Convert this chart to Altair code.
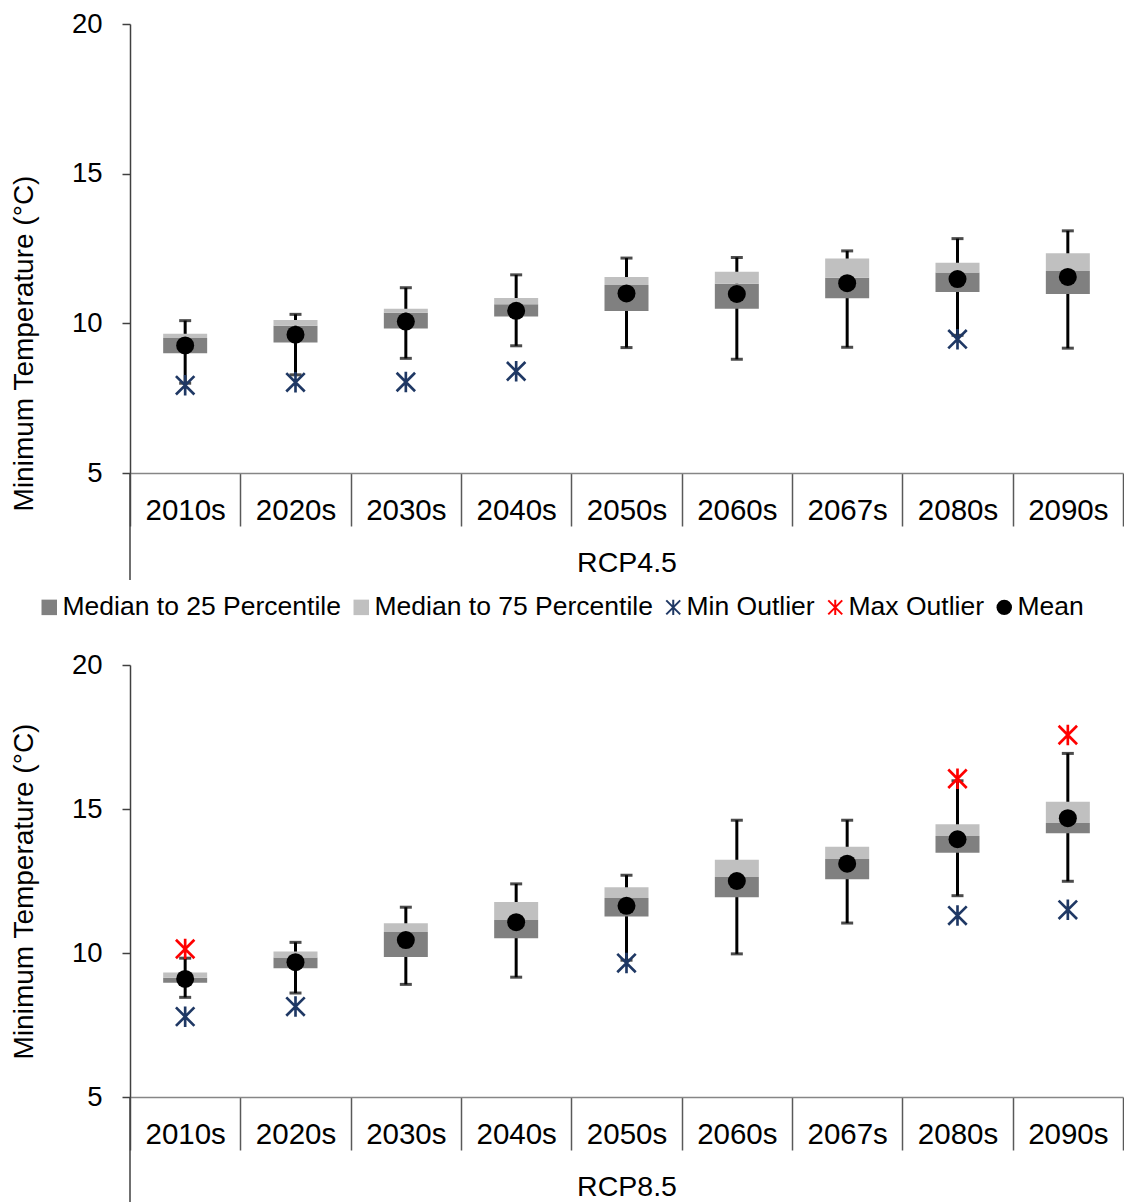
import altair as alt
import pandas as pd

periods = ["2010s", "2020s", "2030s", "2040s", "2050s", "2060s", "2067s", "2080s", "2090s"]

# RCP4.5
r45_q1 = [9.00, 9.36, 9.83, 10.23, 10.41, 10.49, 10.84, 11.05, 10.98]
r45_med = [9.51, 9.92, 10.35, 10.64, 11.28, 11.32, 11.52, 11.70, 11.75]
r45_q3 = [9.65, 10.11, 10.49, 10.85, 11.55, 11.72, 12.17, 12.02, 12.34]
r45_lo = [8.00, 8.28, 8.83, 9.25, 9.19, 8.80, 9.20, 9.60, 9.17]
r45_hi = [10.09, 10.30, 11.19, 11.62, 12.18, 12.20, 12.42, 12.83, 13.09]
r45_mean = [9.26, 9.62, 10.06, 10.42, 11.00, 10.98, 11.34, 11.48, 11.55]
r45_minout = [7.93, 8.03, 8.04, 8.40, None, None, None, 9.47, None]
r45_maxout = [None, None, None, None, None, None, None, None, None]

# RCP8.5
r85_q1 = [8.97, 9.47, 9.86, 10.51, 11.27, 11.94, 12.56, 13.48, 14.16]
r85_med = [9.14, 9.84, 10.73, 11.15, 11.91, 12.64, 13.26, 14.06, 14.51]
r85_q3 = [9.32, 10.05, 11.03, 11.77, 12.28, 13.24, 13.69, 14.47, 15.25]
r85_lo = [8.46, 8.61, 8.91, 9.16, 9.75, 9.97, 11.04, 11.99, 12.49]
r85_hi = [9.82, 10.37, 11.59, 12.40, 12.70, 14.61, 14.61, 15.98, 16.93]
r85_mean = [9.10, 9.68, 10.45, 11.07, 11.64, 12.50, 13.10, 13.95, 14.68]
r85_minout = [7.79, 8.14, None, None, 9.65, None, None, 11.30, 11.50]
r85_maxout = [10.14, None, None, None, None, None, None, 16.05, 17.57]

SERIES = ["Median to 25 Percentile", "Median to 75 Percentile", "Min Outlier", "Max Outlier", "Mean"]
COLORS = ["#808080", "#C0C0C0", "#1F3864", "#FF0000", "#000000"]
ASTER = ("M-0.13,-1L0.13,-1L0.13,1L-0.13,1Z "
         "M-0.808,-0.992L0.992,0.808L0.808,0.992L-0.992,-0.808Z "
         "M-0.992,0.808L0.808,-0.992L0.992,-0.808L-0.808,0.992Z")
SHAPES = ["square", "square", ASTER, ASTER, "circle"]

FONT = "Liberation Sans"
W = 993
YTITLE = "Minimum Temperature (°C)"


def panel(xtitle, q1, med, q3, lo, hi, mean, mnout, mxout, height, title_y, legend_y, show_legend):
    box_rows = []
    for i, p in enumerate(periods):
        box_rows.append(dict(period=p, series=SERIES[0], a=q1[i], b=med[i]))
        box_rows.append(dict(period=p, series=SERIES[1], a=med[i], b=q3[i]))
    boxes = pd.DataFrame(box_rows)
    whisk = pd.DataFrame(dict(period=periods, a=lo, b=hi))
    caps = pd.DataFrame(dict(period=periods * 2, v=lo + hi))
    out_rows = []
    for i, p in enumerate(periods):
        if mnout[i] is not None:
            out_rows.append(dict(period=p, series=SERIES[2], v=mnout[i]))
        if mxout[i] is not None:
            out_rows.append(dict(period=p, series=SERIES[3], v=mxout[i]))
    outs = pd.DataFrame(out_rows)
    means = pd.DataFrame(dict(period=periods, series=[SERIES[4]] * len(periods), v=mean))

    if show_legend:
        legend = alt.Legend(orient="none", legendX=-94, legendY=legend_y, direction="horizontal",
                            title=None, labelFontSize=26.5, labelFont=FONT, symbolSize=240,
                            columnPadding=7, labelOffset=0, labelColor="black",
                            labelLimit=0, symbolStrokeWidth=0)
    else:
        legend = None

    xscale = alt.Scale(type="band", paddingInner=0, paddingOuter=0, domain=periods)
    xaxis = alt.Axis(title=xtitle, labelAngle=0, labelFontSize=29.5, labelColor="black",
                     titleFontSize=28.5, titleFontWeight="normal", titleColor="black",
                     domainColor="#868686", domainWidth=1.5, tickBand="extent", tickSize=53,
                     tickColor="#595959", tickWidth=1.5, labelPadding=-30, titlePadding=22,
                     grid=False)
    yscale = alt.Scale(domain=[5, 20], nice=False, zero=False)
    yaxis = alt.Axis(title=YTITLE, values=[5, 10, 15, 20], labelFontSize=27.5, labelColor="black",
                     titleFontSize=28, titleFontWeight="normal", titleColor="black",
                     titleY=title_y,
                     domainColor="#404040", domainWidth=1.5, tickColor="#404040", tickSize=8,
                     tickWidth=1.5, labelPadding=20, titlePadding=33, grid=False)
    cscale = alt.Scale(domain=SERIES, range=COLORS)
    sscale = alt.Scale(domain=SERIES, range=SHAPES)

    X = alt.X("period:N", scale=xscale, axis=xaxis, sort=periods)

    whisker = alt.Chart(whisk).mark_rule(color="black", strokeWidth=3).encode(
        x=X, y=alt.Y("a:Q", scale=yscale, axis=yaxis), y2="b:Q")
    capm = alt.Chart(caps).mark_tick(color="black", thickness=3, size=12).encode(
        x=X, y=alt.Y("v:Q", scale=yscale, axis=yaxis))
    bars = alt.Chart(boxes).mark_bar(size=44).encode(
        x=X, y=alt.Y("a:Q", scale=yscale, axis=yaxis), y2="b:Q",
        color=alt.Color("series:N", scale=cscale, legend=legend))
    outl = alt.Chart(outs).mark_point(filled=True, opacity=1, size=420).encode(
        x=X, y=alt.Y("v:Q", scale=yscale, axis=yaxis),
        color=alt.Color("series:N", scale=cscale, legend=legend),
        shape=alt.Shape("series:N", scale=sscale, legend=legend))
    meanm = alt.Chart(means).mark_point(filled=True, opacity=1, size=324).encode(
        x=X, y=alt.Y("v:Q", scale=yscale, axis=yaxis),
        color=alt.Color("series:N", scale=cscale, legend=legend),
        shape=alt.Shape("series:N", scale=sscale, legend=legend))
    ext = alt.Chart(pd.DataFrame({"k": [0]})).mark_rule(color="#404040", strokeWidth=1.5).encode(
        x=alt.value(0), y=alt.value(height), y2=alt.value(height + 107))

    return alt.layer(whisker, capm, bars, outl, meanm, ext).properties(width=W, height=height)


top = panel("RCP4.5", r45_q1, r45_med, r45_q3, r45_lo, r45_hi, r45_mean,
            r45_minout, r45_maxout, 449, 319, 570, True)
bottom = panel("RCP8.5", r85_q1, r85_med, r85_q3, r85_lo, r85_hi, r85_mean,
               r85_minout, r85_maxout, 432, 226, 0, False)

chart = alt.vconcat(top, bottom, spacing=30).resolve_scale(
    color="independent", shape="independent"
).properties(
    padding={"left": 2, "right": 0, "top": 2, "bottom": 0}
).configure(font=FONT).configure_view(stroke="transparent", strokeWidth=0)

chart.save("out.html", embed_options={"renderer": "svg", "actions": False})
